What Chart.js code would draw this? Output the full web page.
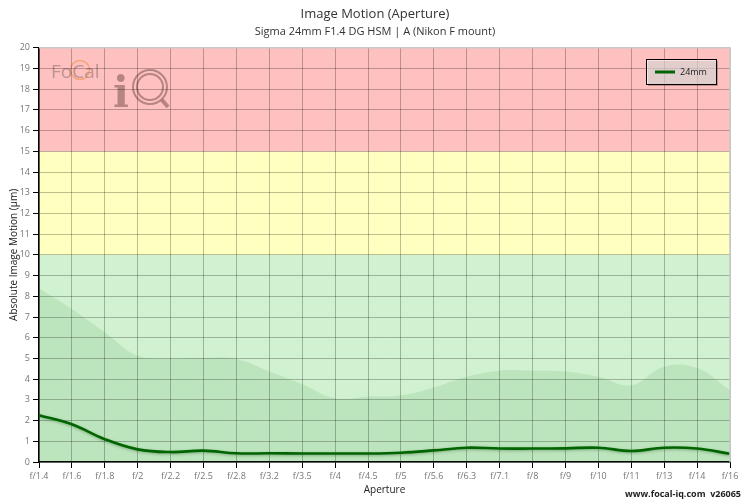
<!DOCTYPE html>
<html>
<head>
<meta charset="utf-8">
<script src="https://cdn.jsdelivr.net/npm/chart.js@4.4.1/dist/chart.umd.min.js"></script>
<style>
  html, body { margin: 0; padding: 0; background: #fff; }
  #wrap { width: 750px; height: 500px; }
</style>
</head>
<body>
<div id="wrap"><canvas id="motionChart"></canvas></div>
<script>
// apertures on the x axis
const apertures = ["f/1.4", "f/1.6", "f/1.8", "f/2", "f/2.2", "f/2.5", "f/2.8", "f/3.2", "f/3.5", "f/4", "f/4.5",
  "f/5", "f/5.6", "f/6.3", "f/7.1", "f/8", "f/9", "f/10", "f/11", "f/13", "f/14", "f/16"];

// measured image motion (µm) for the 24mm
const motion24 = [2.26, 1.82, 1.1, 0.61, 0.48, 0.55, 0.42, 0.42, 0.41, 0.41, 0.41,
  0.45, 0.56, 0.69, 0.65, 0.65, 0.66, 0.69, 0.53, 0.69, 0.65, 0.40];

// upper envelope of the shaded area
const envelope = [8.39, 7.39, 6.26, 5.13, 5.0, 5.02, 4.97, 4.37, 3.76, 3.08, 3.15,
  3.21, 3.6, 4.12, 4.41, 4.41, 4.37, 4.12, 3.71, 4.6, 4.54, 3.47];

// background bands: [from, to, colour]
const bandLimits = [0, 10, 15, 20];
const bandColors = ["#d0f2d0", "#ffffc0", "#ffc0c0"];

const FONT = "'Open Sans', sans-serif";

const bandsPlugin = {
  id: "bands",
  beforeDraw(chart) {
    const { ctx, chartArea: a, scales: { y } } = chart;
    ctx.save();
    for (let i = 0; i < bandColors.length; i++) {
      const top = y.getPixelForValue(bandLimits[i + 1]);
      const bot = y.getPixelForValue(bandLimits[i]);
      ctx.fillStyle = bandColors[i];
      ctx.fillRect(a.left, top, a.right - a.left, bot - top);
    }
    // faint logo
    ctx.globalAlpha = 0.45;
    ctx.fillStyle = "#6a5a5a";
    ctx.font = "19px " + FONT;
    ctx.textBaseline = "alphabetic";
    ctx.fillText("FoCal", 51, 78);
    ctx.strokeStyle = "#f08020";
    ctx.lineWidth = 1.5;
    ctx.beginPath();
    ctx.arc(80, 70, 9.5, 0, Math.PI * 2);
    ctx.stroke();
    ctx.globalAlpha = 0.4;
    ctx.fillStyle = "#4a2a2a";
    ctx.font = "bold 42px 'DejaVu Serif', serif";
    ctx.fillText("i", 113, 107);
    ctx.strokeStyle = "#4a2a2a";
    ctx.lineWidth = 2;
    ctx.beginPath();
    ctx.arc(150, 87, 17, 0, Math.PI * 2);
    ctx.stroke();
    ctx.beginPath();
    ctx.arc(150, 87, 13, 0, Math.PI * 2);
    ctx.stroke();
    ctx.lineWidth = 4;
    ctx.beginPath();
    ctx.moveTo(162, 100);
    ctx.lineTo(168, 107);
    ctx.stroke();
    ctx.restore();
  },
  afterDraw(chart) {
    const { ctx, chartArea: a } = chart;
    ctx.save();
    // light top/right frame
    ctx.strokeStyle = "#c8c8c8";
    ctx.lineWidth = 1.5;
    ctx.beginPath();
    ctx.moveTo(a.left, a.top);
    ctx.lineTo(a.right, a.top);
    ctx.lineTo(a.right, a.bottom);
    ctx.stroke();

    // legend box
    const ds = chart.data.datasets.find(d => d.label);
    const bx = 646, by = 59, bw = 70, bh = 25;
    ctx.fillStyle = "rgba(0,0,0,0.25)";
    ctx.fillRect(bx + 2, by + 2, bw, bh);
    ctx.fillStyle = "rgba(255,255,255,0.55)";
    ctx.fillRect(bx, by, bw, bh);
    ctx.strokeStyle = "#000";
    ctx.lineWidth = 1;
    ctx.strokeRect(bx + 0.5, by + 0.5, bw, bh);
    ctx.strokeStyle = ds.borderColor;
    ctx.lineWidth = 3;
    ctx.beginPath();
    ctx.moveTo(655, by + 13);
    ctx.lineTo(675, by + 13);
    ctx.stroke();
    ctx.fillStyle = "#222";
    ctx.font = "9px " + FONT;
    ctx.textBaseline = "middle";
    ctx.fillText(ds.label, 680, by + 13);

    // footer
    ctx.font = "bold 9px " + FONT;
    ctx.textAlign = "right";
    ctx.fillStyle = "#222";
    ctx.fillText("www.focal-iq.com  v26065", 741, 494);
    ctx.restore();
  },
  beforeDatasetDraw(chart, args) {
    if (args.index === 0) {
      chart.ctx.save();
      chart.ctx.shadowColor = "rgba(0,60,0,0.35)";
      chart.ctx.shadowBlur = 3;
      chart.ctx.shadowOffsetY = 1;
    }
  },
  afterDatasetDraw(chart, args) {
    if (args.index === 0) chart.ctx.restore();
  }
};

const ctx = document.getElementById("motionChart").getContext("2d");

const motionChart = new Chart(ctx, {
  type: "line",
  data: {
    labels: apertures,
    datasets: [
      {
        label: "24mm",
        data: motion24,
        borderColor: "#006400",
        borderWidth: 2.6,
        pointRadius: 0,
        tension: 0.4,
        fill: false,
      },
      {
        label: "",
        data: envelope,
        borderWidth: 0,
        borderColor: "rgba(0,0,0,0)",
        backgroundColor: "rgba(0,100,0,0.09)",
        pointRadius: 0,
        tension: 0.4,
        fill: "origin",
      },
    ],
  },
  options: {
    responsive: true,
    maintainAspectRatio: false,
    animation: false,
    events: [],
    layout: { padding: 0 },
    plugins: {
      legend: { display: false },
      tooltip: { enabled: false },
      title: {
        display: true,
        text: "Image Motion (Aperture)",
        color: "#333",
        font: { family: FONT, size: 13, weight: "normal" },
        padding: { top: 6, bottom: 2 },
      },
      subtitle: {
        display: true,
        text: "Sigma 24mm F1.4 DG HSM | A (Nikon F mount)",
        color: "#333",
        font: { family: FONT, size: 11, weight: "normal" },
        padding: { top: 2, bottom: 9 },
      },
    },
    scales: {
      x: {
        grid: { color: "rgba(0,0,0,0.26)", tickColor: "#000", tickLength: 6 },
        border: { color: "#000", width: 1.5 },
        ticks: {
          color: "#777",
          font: { family: FONT, size: 9 },
          maxRotation: 0,
          autoSkip: false,
          padding: 3,
        },
        title: {
          display: true,
          text: "Aperture",
          color: "#222",
          font: { family: FONT, size: 10 },
          padding: { top: 2, bottom: 4 },
        },
        afterFit(scale) { scale.height = 38; },
      },
      y: {
        min: 0,
        max: 20,
        grid: { color: "rgba(0,0,0,0.26)", tickColor: "#000", tickLength: 6 },
        border: { color: "#000", width: 1.5 },
        ticks: {
          stepSize: 1,
          color: "#777",
          font: { family: FONT, size: 9 },
          padding: 3,
        },
        title: {
          display: true,
          text: "Absolute Image Motion (µm)",
          color: "#222",
          font: { family: FONT, size: 10 },
          padding: { top: 8, bottom: 2 },
        },
        afterFit(scale) { scale.width = 39; },
      },
      // empty right-hand spacer so the titles stay centred on the page
      yRight: {
        position: "right",
        min: 0,
        max: 20,
        grid: { display: false },
        border: { display: false },
        ticks: { display: false },
        afterFit(scale) { scale.width = 20; },
      },
    },
  },
  plugins: [bandsPlugin],
});
</script>
</body>
</html>
